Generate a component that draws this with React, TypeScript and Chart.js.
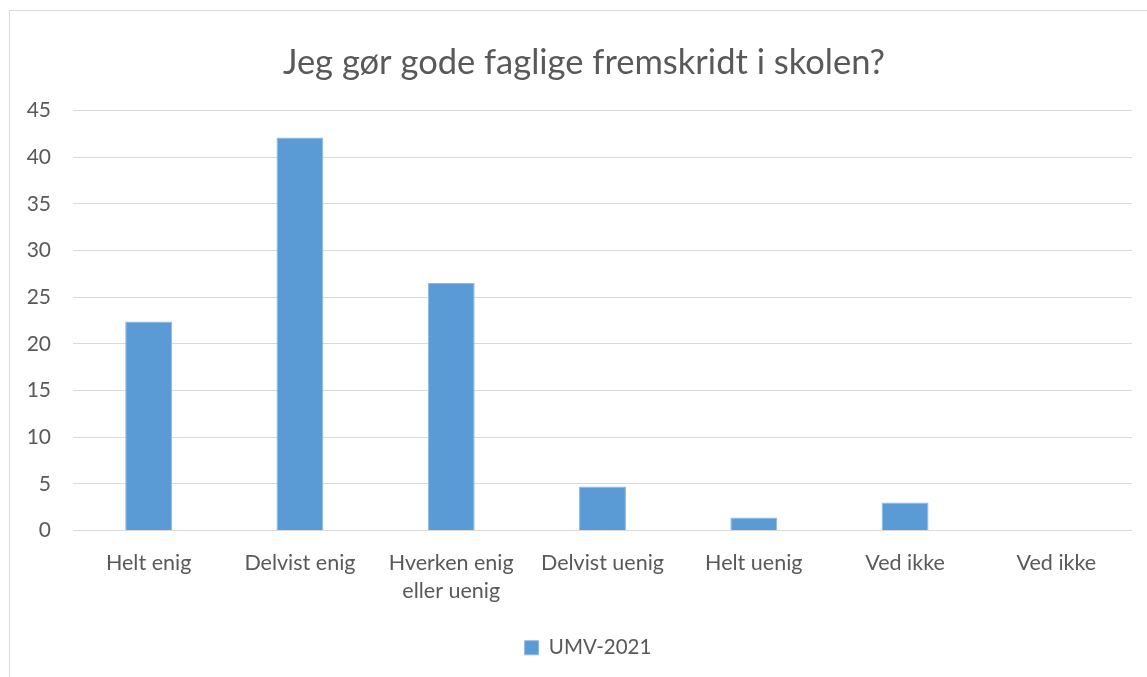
import React, { useEffect, useRef } from "react";
import { Chart, registerables } from "chart.js";

Chart.register(...registerables);

const categories: (string | string[])[] = [
  "Helt enig",
  "Delvist enig",
  ["Hverken enig", "eller uenig"],
  "Delvist uenig",
  "Helt uenig",
  "Ved ikke",
  "Ved ikke",
];
const seriesLabel = "UMV-2021";
const seriesValues = [22.4, 42.1, 26.5, 4.7, 1.4, 3.0, 0];
const yTicks = { min: 0, max: 45, step: 5 };
const titleText = "Jeg gør gode faglige fremskridt i skolen?";

const FONT = "Lato, 'Noto Sans', sans-serif";
const GRAY = "#595959";

const centerShift = {
  id: "centerShift",
  afterLayout(chart: any) {
    if (chart.titleBlock) chart.titleBlock.left += 26;
    if (chart.legend) chart.legend.left += 34;
  },
};

export default function App() {
  const ref = useRef<HTMLCanvasElement | null>(null);

  useEffect(() => {
    if (!ref.current) return;
    const chart = new Chart(ref.current, {
      type: "bar",
      data: {
        labels: categories,
        datasets: [
          {
            label: seriesLabel,
            data: seriesValues,
            backgroundColor: "#5B9BD5",
            borderColor: "#8DB9E3",
            borderWidth: 1,
            barPercentage: 0.31,
            categoryPercentage: 1,
          },
        ],
      },
      plugins: [centerShift],
      options: {
        animation: false,
        responsive: true,
        maintainAspectRatio: false,
        layout: { padding: { left: 0, right: 15, top: 0, bottom: 9 } },
        plugins: {
          title: {
            display: true,
            text: titleText,
            color: GRAY,
            font: { family: FONT, size: 34.5, weight: "normal" },
            padding: { top: 31, bottom: 27 },
          },
          legend: {
            display: true,
            position: "bottom",
            labels: {
              color: GRAY,
              font: { family: FONT, size: 20.5 },
              boxWidth: 14,
              boxHeight: 14,
              padding: 10,
            },
          },
          tooltip: { enabled: false },
        },
        scales: {
          x: {
            grid: { display: false },
            border: { display: false },
            ticks: {
              color: GRAY,
              font: { family: FONT, size: 21.5, lineHeight: 1.3 },
              padding: 11,
              maxRotation: 0,
              autoSkip: false,
            },
            afterFit: (s: any) => {
              s.height = 97;
            },
          },
          y: {
            min: yTicks.min,
            max: yTicks.max,
            grid: { color: "#d9d9d9", lineWidth: 1, drawTicks: false },
            border: { display: false },
            ticks: {
              stepSize: yTicks.step,
              color: GRAY,
              font: { family: FONT, size: 21 },
              padding: 22,
            },
            afterFit: (s: any) => {
              s.width = 63;
            },
          },
        },
      },
    });
    return () => chart.destroy();
  }, []);

  return (
    <div
      style={{
        position: "absolute",
        left: 0,
        top: 0,
        width: 1147,
        height: 677,
        overflow: "hidden",
        background: "#fff",
      }}
    >
      <div
        style={{
          position: "absolute",
          left: 9,
          top: 10,
          width: 1150,
          height: 700,
          border: "1px solid #d9d9d9",
          boxSizing: "border-box",
        }}
      />
      <div
        style={{
          position: "absolute",
          left: 10,
          top: 11,
          width: 1137,
          height: 666,
        }}
      >
        <canvas ref={ref} />
      </div>
    </div>
  );
}
